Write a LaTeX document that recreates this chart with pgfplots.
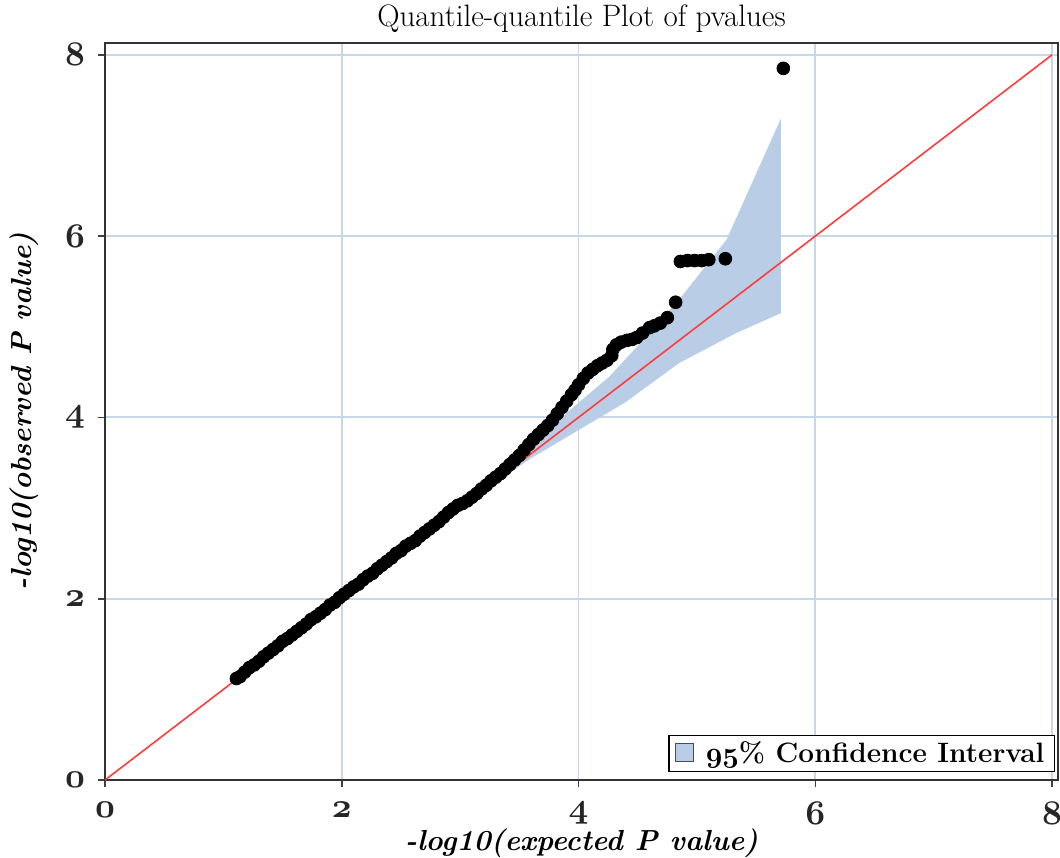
\documentclass[border=0pt]{standalone}
\usepackage{pgfplots}
\pgfplotsset{compat=1.18}
\definecolor{gridc}{RGB}{200,215,232}
\definecolor{cifill}{RGB}{185,206,230}
\definecolor{refred}{RGB}{255,60,60}
\newcommand{\osn}[1]{{\boldmath$\mathnormal{#1}$}}
\pgfplotstableread{
x y
1.11 1.12
1.14 1.14
1.18 1.19
1.22 1.24
1.26 1.27
1.30 1.31
1.34 1.36
1.38 1.40
1.42 1.44
1.46 1.48
1.50 1.53
1.54 1.56
1.58 1.60
1.62 1.64
1.66 1.68
1.70 1.72
1.74 1.77
1.78 1.80
1.82 1.84
1.86 1.88
1.90 1.93
1.94 1.96
1.98 2.01
2.02 2.05
2.06 2.09
2.10 2.13
2.14 2.16
2.18 2.21
2.22 2.25
2.26 2.28
2.30 2.33
2.34 2.37
2.38 2.41
2.42 2.45
2.46 2.50
2.50 2.53
2.54 2.58
2.58 2.61
2.62 2.64
2.66 2.69
2.70 2.73
2.74 2.77
2.78 2.81
2.82 2.85
2.86 2.90
2.90 2.95
2.94 2.99
2.98 3.03
3.02 3.05
3.06 3.08
3.10 3.12
3.14 3.16
3.18 3.21
3.22 3.25
3.26 3.30
3.30 3.34
3.34 3.38
3.38 3.43
3.42 3.48
3.46 3.53
3.50 3.58
3.54 3.64
3.58 3.70
3.62 3.76
3.66 3.81
3.70 3.86
3.74 3.91
3.78 3.97
3.82 4.04
3.86 4.11
3.90 4.18
3.94 4.25
3.97 4.30
4.00 4.36
4.04 4.43
4.08 4.49
4.12 4.53
4.16 4.57
4.20 4.60
4.24 4.63
4.28 4.68
4.29 4.75
4.32 4.80
4.36 4.83
4.41 4.85
4.45 4.86
4.49 4.88
4.54 4.93
4.60 4.99
4.64 5.01
4.69 5.04
4.75 5.10
4.82 5.27
4.86 5.72
4.92 5.73
4.98 5.73
5.04 5.73
5.10 5.74
5.24 5.75
5.73 7.85
}\pvals
\pgfplotstableread{
x y
3.30 3.30
3.60 3.68
3.90 4.05
4.26 4.45
4.60 4.93
4.88 5.35
5.25 5.96
5.71 7.30
5.71 5.15
5.33 4.93
4.85 4.60
4.40 4.17
4.00 3.86
3.60 3.55
3.30 3.28
}\ciband
\begin{document}
\begin{tikzpicture}
\begin{axis}[
  name=ax,
  scale only axis,
  width=476.5pt, height=368.5pt,
  xmin=0, xmax=8.05, ymin=0, ymax=8.13,
  xtick={0,2,4,6,8}, ytick={0,2,4,6,8},
  xticklabels={\osn{0},\osn{2},\osn{4},\osn{6},\osn{8}},
  yticklabels={\osn{0},\osn{2},\osn{4},\osn{6},\osn{8}},
  tick label style={font=\fontsize{16}{18}\selectfont, text=black!85},
  xticklabel style={yshift=-4pt},
  yticklabel style={xshift=-3pt},
  xtick pos=bottom, ytick pos=left,
  tick align=outside,
  major tick length=3.5pt,
  every tick/.style={black!75, line width=0.8pt},
  axis line style={black!80, line width=0.9pt},
  grid=major,
  major grid style={gridc, line width=0.9pt},
  title={Quantile-quantile Plot of pvalues},
  title style={font=\fontsize{15.5}{18}\selectfont, yshift=-4.5pt},
  xlabel={\textbf{\textit{-log10(expected P value)}}},
  ylabel={\textbf{\textit{-log10(observed P value)}}},
  label style={font=\fontsize{14.5}{17}\selectfont},
  xlabel style={yshift=4.5pt},
  ylabel style={yshift=6.5pt},
  legend style={at={(1,0)}, anchor=south east, xshift=-1.5pt, yshift=4pt,
    draw=black, line width=0.7pt, inner xsep=3pt, inner ysep=1pt,
    font=\fontsize{14}{15}\selectfont\bfseries, row sep=0pt},
  legend cell align=left,
]
\addplot[fill=cifill, draw=none, area legend,
  legend image code/.code={\draw[fill=cifill, draw=black!70, line width=0.5pt] (0pt,-4pt) rectangle (9pt,5pt);}]
  table[x=x,y=y] \ciband;
\addlegendentry{\hspace{4pt}\osn{95}\% Confidence Interval}
\addplot[only marks, mark=*, mark size=3.2pt, black, forget plot] table[x=x,y=y] \pvals;
\addplot[refred, line width=0.8pt, forget plot] coordinates {(0,0) (8,8)};
\end{axis}
\pgfresetboundingbox
\path[use as bounding box] ([xshift=-52.5pt,yshift=-38.5pt]ax.south west) rectangle ([xshift=1pt,yshift=21.5pt]ax.north east);
\end{tikzpicture}
\end{document}
